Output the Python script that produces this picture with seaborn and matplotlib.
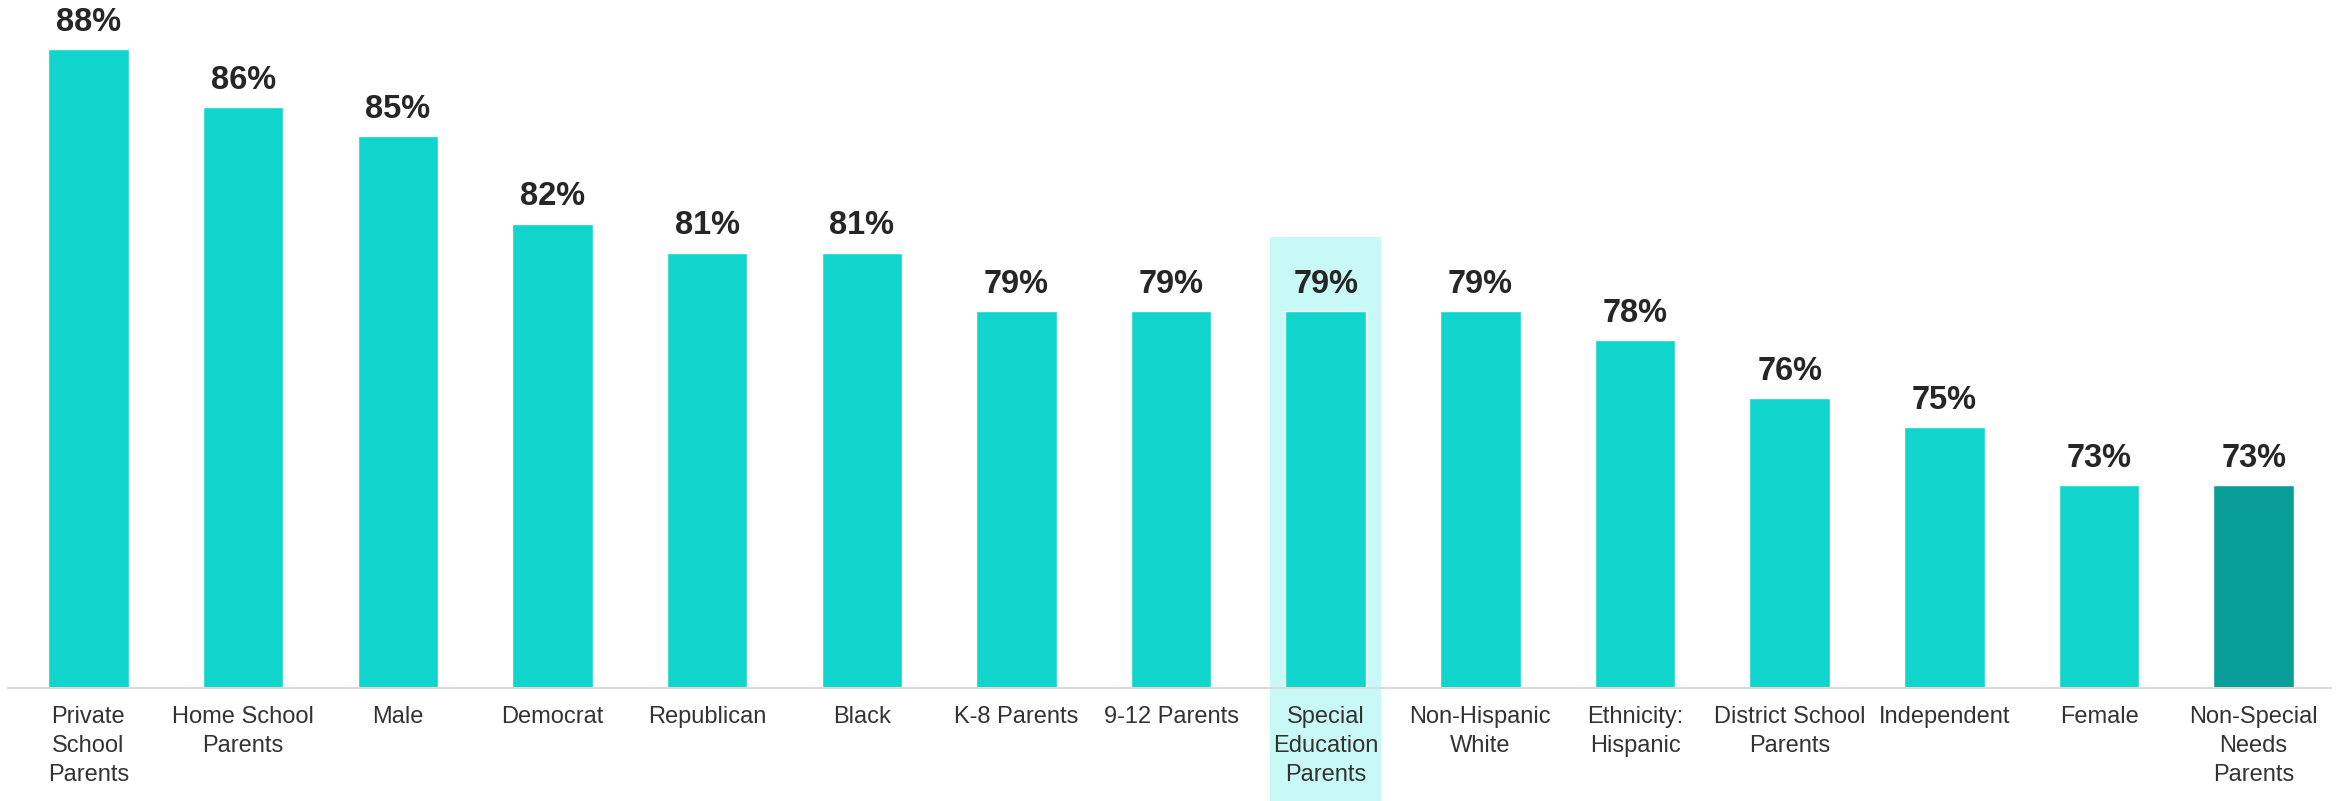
"""
Bar chart of share by parent group, one bar highlighted.
"""

import matplotlib
matplotlib.use("Agg")
import matplotlib.pyplot as plt
from matplotlib.patches import Rectangle
import seaborn as sns
import pandas as pd

# data
groups = ["Private\nSchool\nParents", "Home School\nParents", "Male", "Democrat",
          "Republican", "Black", "K-8 Parents", "9-12 Parents",
          "Special\nEducation\nParents", "Non-Hispanic\nWhite", "Ethnicity:\nHispanic",
          "District School\nParents", "Independent", "Female",
          "Non-Special\nNeeds\nParents"]
values = [88, 86, 85, 82, 81, 81, 79, 79, 79, 79, 78, 76, 75, 73, 73]
highlight_idx = 8  # Special Education Parents

bar_color = "#10D5CC"
last_color = "#0A9E98"
colors = [bar_color] * (len(values) - 1) + [last_color]

sns.set_theme(style="white")
plt.rcParams["font.family"] = ["Liberation Sans", "DejaVu Sans"]

df = pd.DataFrame({"group": groups, "value": values})

fig = plt.figure(figsize=(23.46, 8.01), dpi=100)
ax = fig.add_axes([8 / 2346, 1 - 688 / 801, (2331 - 8) / 2346, 688 / 801])

sns.barplot(data=df, x="group", y="value", hue="group", palette=colors,
            legend=False, width=0.52, saturation=1, ax=ax)

ax.set_ylim(66, 89.7)
ax.set_xlim(-0.52, 14.5)

# light box behind the highlighted group, runs down under the tick label
ax.add_patch(Rectangle((highlight_idx - 0.36, 62.1), 0.72, 81.55 - 62.1,
                       facecolor="#C9F9F6", edgecolor="none", zorder=0.5,
                       clip_on=False))

for cont in ax.containers:
    ax.bar_label(cont, labels=[f"{v:.0f}%" for v in cont.datavalues],
                 padding=8, fontsize=23.5, fontweight="bold", color="#262626")

for side in ["top", "left", "right"]:
    ax.spines[side].set_visible(False)
ax.spines["bottom"].set_color("#D9D9D9")
ax.spines["bottom"].set_linewidth(1.5)

ax.set_yticks([])
ax.set_xlabel("")
ax.set_ylabel("")
ax.tick_params(axis="x", length=0, pad=13, labelsize=17, labelcolor="#333333")
for lab in ax.get_xticklabels():
    lab.set_linespacing(1.4)

fig.savefig("out.png", dpi=100)
